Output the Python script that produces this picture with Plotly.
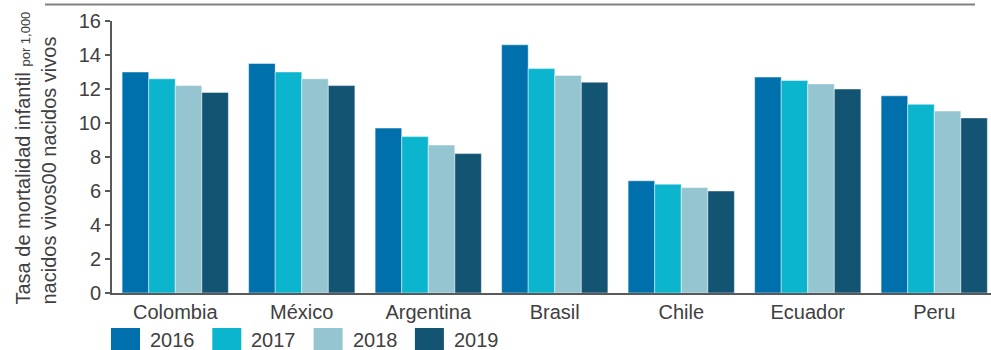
import plotly.graph_objects as go

categories = ["Colombia", "México", "Argentina", "Brasil", "Chile", "Ecuador", "Peru"]
years = ["2016", "2017", "2018", "2019"]
v2016 = [13.0, 13.5, 9.7, 14.6, 6.6, 12.7, 11.6]
v2017 = [12.6, 13.0, 9.2, 13.2, 6.4, 12.5, 11.1]
v2018 = [12.2, 12.6, 8.7, 12.8, 6.2, 12.3, 10.7]
v2019 = [11.8, 12.2, 8.2, 12.4, 6.0, 12.0, 10.3]
series = [v2016, v2017, v2018, v2019]
colors = ["#0070AD", "#0BB5CE", "#95C5D0", "#145473"]
y_ticks = [0, 2, 4, 6, 8, 10, 12, 14, 16]

FONT = "Liberation Sans, Arial, sans-serif"
TXT = "#404040"

W, H = 991, 350
ml, mr, mt, mb = 112, 0, 21, 57
pw = W - ml - mr
ph = H - mt - mb

fig = go.Figure()
for name, vals, col in zip(years, series, colors):
    fig.add_trace(go.Bar(
        x=categories, y=vals, name=name,
        marker=dict(color=col, line=dict(color="rgba(255,255,255,0.45)", width=1)),
        showlegend=False,
    ))

# pixel -> paper
def px(xp):
    return (xp - ml) / pw

def py(yp):
    return (H - mb - yp) / ph

shapes = [dict(type="line", xref="paper", yref="paper",
               x0=px(45), x1=px(975), y0=py(4.5), y1=py(4.5),
               line=dict(color="#808080", width=2))]
annotations = []
# custom legend
for i, (name, col) in enumerate(zip(years, colors)):
    x0 = 111 + i * 101.3
    shapes.append(dict(type="rect", xref="paper", yref="paper",
                       x0=px(x0), x1=px(x0 + 29), y0=py(328), y1=py(351),
                       fillcolor=col, line=dict(width=0)))
    annotations.append(dict(xref="paper", yref="paper", x=px(x0 + 37), y=py(340),
                            xanchor="left", yanchor="middle", showarrow=False,
                            text=name, font=dict(family=FONT, size=20, color=TXT)))

annotations.append(dict(
    xref="paper", yref="paper", x=px(9), y=py(307),
    xanchor="left", yanchor="bottom", showarrow=False, textangle=-90, align="left",
    text="Tasa de mortalidad infantil <span style='font-size:13px'>por 1,000</span><br>nacidos vivos00 nacidos vivos",
    font=dict(family=FONT, size=20, color=TXT)))

fig.update_layout(
    width=W, height=H,
    margin=dict(l=ml, r=mr, t=mt, b=mb, pad=0),
    paper_bgcolor="white", plot_bgcolor="white",
    barmode="group", bargap=0.16, bargroupgap=0,
    font=dict(family=FONT, size=20, color=TXT),
    shapes=shapes, annotations=annotations,
    xaxis=dict(range=[-0.5, -0.5 + pw / 126.5], showline=True, linecolor="#595959",
               linewidth=2, ticks="", showgrid=False, zeroline=False,
               tickfont=dict(family=FONT, size=20, color=TXT)),
    yaxis=dict(range=[0, 16], tickvals=y_ticks, showline=True, linecolor="#595959",
               linewidth=2, ticks="outside", ticklen=5, tickcolor="#595959", tickwidth=2,
               showgrid=False, zeroline=False,
               tickfont=dict(family=FONT, size=20, color=TXT)),
)

fig.write_html("out.html")
